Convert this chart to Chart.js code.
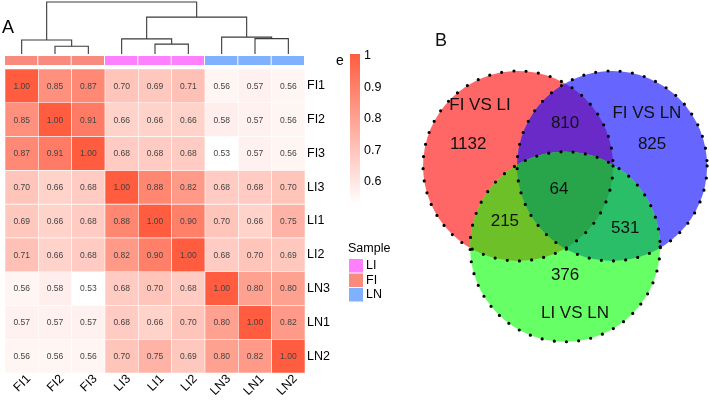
<!DOCTYPE html>
<html>
<head>
<meta charset="utf-8">
<script src="https://cdn.jsdelivr.net/npm/chart.js@4.4.1/dist/chart.umd.min.js"></script>
<style>
  html, body { margin: 0; padding: 0; background: #fff; }
  #wrap { position: relative; width: 709px; height: 400px; }
  #heat { position: absolute; left: 0; top: 0; }
  #venn { position: absolute; left: 400px; top: 0; }
</style>
</head>
<body>
<div id="wrap">
  <canvas id="heat" width="400" height="400"></canvas>
  <canvas id="venn" width="309" height="400"></canvas>
</div>
<script>
// DATOS HEATMAP
const samples = ["FI1", "FI2", "FI3", "LI3", "LI1", "LI2", "LN3", "LN1", "LN2"];
const sampleGroup = ["FI", "FI", "FI", "LI", "LI", "LI", "LN", "LN", "LN"];
const rowFI1 = [1.00, 0.85, 0.87, 0.70, 0.69, 0.71, 0.56, 0.57, 0.56];
const rowFI2 = [0.85, 1.00, 0.91, 0.66, 0.66, 0.66, 0.58, 0.57, 0.56];
const rowFI3 = [0.87, 0.91, 1.00, 0.68, 0.68, 0.68, 0.53, 0.57, 0.56];
const rowLI3 = [0.70, 0.66, 0.68, 1.00, 0.88, 0.82, 0.68, 0.68, 0.70];
const rowLI1 = [0.69, 0.66, 0.68, 0.88, 1.00, 0.90, 0.70, 0.66, 0.75];
const rowLI2 = [0.71, 0.66, 0.68, 0.82, 0.90, 1.00, 0.68, 0.70, 0.69];
const rowLN3 = [0.56, 0.58, 0.53, 0.68, 0.70, 0.68, 1.00, 0.80, 0.80];
const rowLN1 = [0.57, 0.57, 0.57, 0.68, 0.66, 0.70, 0.80, 1.00, 0.82];
const rowLN2 = [0.56, 0.56, 0.56, 0.70, 0.75, 0.69, 0.80, 0.82, 1.00];
const corr = [rowFI1, rowFI2, rowFI3, rowLI3, rowLI1, rowLI2, rowLN3, rowLN1, rowLN2];
const scaleTicks = [1, 0.9, 0.8, 0.7, 0.6];
const scaleMin = 0.53, scaleMax = 1;
const legendGroups = ["LI", "FI", "LN"];
// merge estilo hclust: negativo = hoja, positivo = merge previo
const dendroMerge = [[-2, -3], [-5, -6], [-8, -9], [-1, 1], [-4, 2], [-7, 3], [5, 6], [4, 7]];
const dendroHeight = [0.15, 0.19, 0.295, 0.27, 0.29, 0.325, 0.71, 1.0];

// DATOS VENN
const vennSets = ["FI VS LI", "FI VS LN", "LI VS LN"];
const vennCircles = [{ x: -1, y: 0, r: 2.02 }, { x: 1, y: 0, r: 2.02 }, { x: 0, y: -1.72, r: 2.02 }];
const vennCounts = ["1132", "825", "376", "810", "215", "531", "64"];
const vennCountPos = [[-2.06, 0.45], [1.85, 0.45], [0, -2.32], [0, 0.91], [-1.28, -1.17], [1.28, -1.32], [-0.13, -0.49]];
const vennNamePos = [[-1.81, 1.30], [1.74, 1.11], [0.21, -3.13]];

const FONT = '"Liberation Sans", Arial, sans-serif';
const groupColors = { FI: "#F98A7E", LI: "#FF80FF", LN: "#80B1FF" };
const hiRGB = [255, 92, 64];

const cellColor = (v) => {
    const t = Math.max(0, Math.min(1, (v - scaleMin) / (scaleMax - scaleMin)));
    const c = hiRGB.map(h => Math.round(255 + t * (h - 255)));
    return `rgb(${c[0]},${c[1]},${c[2]})`;
};

// PLUGIN HEATMAP: valores, dendrograma, anotacion, leyendas
const heatExtras = {
    id: "heatExtras",
    afterDatasetsDraw(chart) {
        const ctx = chart.ctx;
        ctx.save();
        ctx.font = `8.5px ${FONT}`;
        ctx.fillStyle = "#444";
        ctx.textAlign = "center";
        ctx.textBaseline = "middle";
        chart.data.datasets.forEach((ds, i) => {
            chart.getDatasetMeta(i).data.forEach((bar, j) => {
                const p = bar.getCenterPoint();
                ctx.fillText(corr[i][j].toFixed(2), p.x, p.y + 0.5);
            });
        });
        ctx.restore();
    },
    afterDraw(chart) {
        const ctx = chart.ctx, xs = chart.scales.x, area = chart.chartArea;
        const colW = xs.getPixelForValue(1) - xs.getPixelForValue(0);
        ctx.save();

        // Etiquetas de columnas (rotadas 45)
        ctx.fillStyle = "#000";
        ctx.font = `12.5px ${FONT}`;
        ctx.textAlign = "right";
        ctx.textBaseline = "middle";
        samples.forEach((s, j) => {
            ctx.save();
            ctx.translate(xs.getPixelForValue(j) + 7, area.bottom + 4);
            ctx.rotate(-Math.PI / 4);
            ctx.fillText(s, 0, 0);
            ctx.restore();
        });

        // Dendrograma
        const leafY = area.top - 15, hPx = 52;
        const hy = (h) => leafY - h * hPx;
        const nodes = [];
        const nodeOf = (k) => k < 0 ? { x: xs.getPixelForValue(-k - 1), h: 0 } : nodes[k - 1];
        ctx.strokeStyle = "#3a3a3a";
        ctx.lineWidth = 1.1;
        dendroMerge.forEach((m, i) => {
            const a = nodeOf(m[0]), b = nodeOf(m[1]), h = dendroHeight[i];
            ctx.beginPath();
            ctx.moveTo(a.x, hy(a.h));
            ctx.lineTo(a.x, hy(h));
            ctx.lineTo(b.x, hy(h));
            ctx.lineTo(b.x, hy(b.h));
            ctx.stroke();
            nodes.push({ x: (a.x + b.x) / 2, h });
        });

        // Barra de anotacion
        samples.forEach((s, j) => {
            const cx = xs.getPixelForValue(j);
            ctx.fillStyle = groupColors[sampleGroup[j]];
            ctx.fillRect(cx - colW / 2, area.top - 13, colW - 1, 9);
        });

        // Escala de color
        const barX = 350, barW = 10, barTop = 54;
        const vy = (v) => 56 + (1 - v) * 315;
        const barBot = vy(scaleMin);
        const grad = ctx.createLinearGradient(0, barTop, 0, barBot);
        grad.addColorStop(0, cellColor(1));
        grad.addColorStop(1, cellColor(scaleMin));
        ctx.fillStyle = grad;
        ctx.fillRect(barX, barTop, barW, barBot - barTop);
        ctx.fillStyle = "#000";
        ctx.font = `12.5px ${FONT}`;
        ctx.textAlign = "left";
        ctx.textBaseline = "middle";
        scaleTicks.forEach(v => ctx.fillText(String(v), barX + 14, vy(v)));
        ctx.font = `14px ${FONT}`;
        ctx.textBaseline = "alphabetic";
        ctx.fillText("e", 336, 65);

        // Leyenda Sample
        ctx.font = `12.5px ${FONT}`;
        ctx.fillText("Sample", 348, 252);
        ctx.textBaseline = "middle";
        legendGroups.forEach((g, k) => {
            const y0 = 259 + k * 14.5;
            ctx.fillStyle = groupColors[g];
            ctx.fillRect(349, y0, 14, 13.5);
            ctx.fillStyle = "#000";
            ctx.fillText(g, 366, y0 + 7);
        });

        // Letra del panel
        ctx.font = `18px ${FONT}`;
        ctx.textBaseline = "alphabetic";
        ctx.fillText("A", 2, 33);
        ctx.restore();
    }
};

const heatDatasets = corr.map((row, i) => ({
    label: samples[i],
    data: row.map(() => [i, i + 1]),
    backgroundColor: row.map(cellColor),
    borderColor: "#ffffff",
    borderWidth: 0.6,
    borderSkipped: false,
    barPercentage: 1,
    categoryPercentage: 1
}));

new Chart(document.getElementById("heat"), {
    type: "bar",
    data: { labels: samples, datasets: heatDatasets },
    options: {
        responsive: false,
        animation: false,
        events: [],
        layout: { padding: { left: 5, top: 69, right: 0, bottom: 0 } },
        plugins: { legend: { display: false }, tooltip: { enabled: false } },
        scales: {
            x: {
                stacked: true,
                grid: { display: false, drawTicks: false },
                border: { display: false },
                ticks: { display: false },
                afterFit: (s) => { s.height = 27; }
            },
            y: { type: "linear", min: 0, max: 9, reverse: true, display: false },
            y2: {
                type: "category",
                labels: samples,
                position: "right",
                offset: true,
                grid: { display: false, drawTicks: false },
                border: { display: false },
                ticks: { color: "#000", font: { size: 12.5, family: FONT }, padding: 2 },
                afterFit: (s) => { s.width = 95; }
            }
        }
    },
    plugins: [heatExtras]
});

// PLUGIN VENN
const vennColors = { R: "#FF6666", B: "#6666FF", G: "#66FF66", RB: "#6A2AC8", RG: "#6EC028", BG: "#2ABE69", RBG: "#28A54B" };
const vennDraw = {
    id: "vennDraw",
    afterDatasetsDraw(chart) {
        const ctx = chart.ctx, xs = chart.scales.x, ys = chart.scales.y;
        const circ = vennCircles.map(c => ({
            x: xs.getPixelForValue(c.x),
            y: ys.getPixelForValue(c.y),
            r: xs.getPixelForValue(c.r) - xs.getPixelForValue(0)
        }));
        const path = (c) => { ctx.beginPath(); ctx.arc(c.x, c.y, c.r, 0, Math.PI * 2); };
        const fill = (c, col) => { path(c); ctx.fillStyle = col; ctx.fill(); };
        const clipTo = (c) => { path(c); ctx.clip(); };
        const [R, B, G] = circ;

        ctx.save();
        fill(R, vennColors.R); fill(B, vennColors.B); fill(G, vennColors.G);
        ctx.save(); clipTo(R); fill(B, vennColors.RB); ctx.restore();
        ctx.save(); clipTo(R); fill(G, vennColors.RG); ctx.restore();
        ctx.save(); clipTo(B); fill(G, vennColors.BG); ctx.restore();
        ctx.save(); clipTo(R); clipTo(B); fill(G, vennColors.RBG); ctx.restore();

        // bordes punteados
        ctx.strokeStyle = "#000";
        ctx.lineWidth = 3.2;
        ctx.lineCap = "round";
        ctx.setLineDash([0, 12.3]);
        circ.forEach(c => { path(c); ctx.stroke(); });
        ctx.setLineDash([]);

        ctx.fillStyle = "#111";
        ctx.font = `17px ${FONT}`;
        ctx.textAlign = "center";
        ctx.textBaseline = "middle";
        vennCounts.forEach((t, i) => ctx.fillText(t, xs.getPixelForValue(vennCountPos[i][0]), ys.getPixelForValue(vennCountPos[i][1])));
        vennSets.forEach((t, i) => ctx.fillText(t, xs.getPixelForValue(vennNamePos[i][0]), ys.getPixelForValue(vennNamePos[i][1])));

        ctx.font = `18px ${FONT}`;
        ctx.textAlign = "left";
        ctx.textBaseline = "alphabetic";
        ctx.fillText("B", 35, 46);
        ctx.restore();
    }
};

new Chart(document.getElementById("venn"), {
    type: "scatter",
    data: { datasets: [{ data: vennCircles.map(c => ({ x: c.x, y: c.y })), pointRadius: 0 }] },
    options: {
        responsive: false,
        animation: false,
        events: [],
        layout: { padding: 0 },
        plugins: { legend: { display: false }, tooltip: { enabled: false } },
        scales: {
            x: { type: "linear", min: -3.51, max: 3.06, display: false },
            y: { type: "linear", min: -4.98, max: 3.53, display: false }
        }
    },
    plugins: [vennDraw]
});
</script>
</body>
</html>
